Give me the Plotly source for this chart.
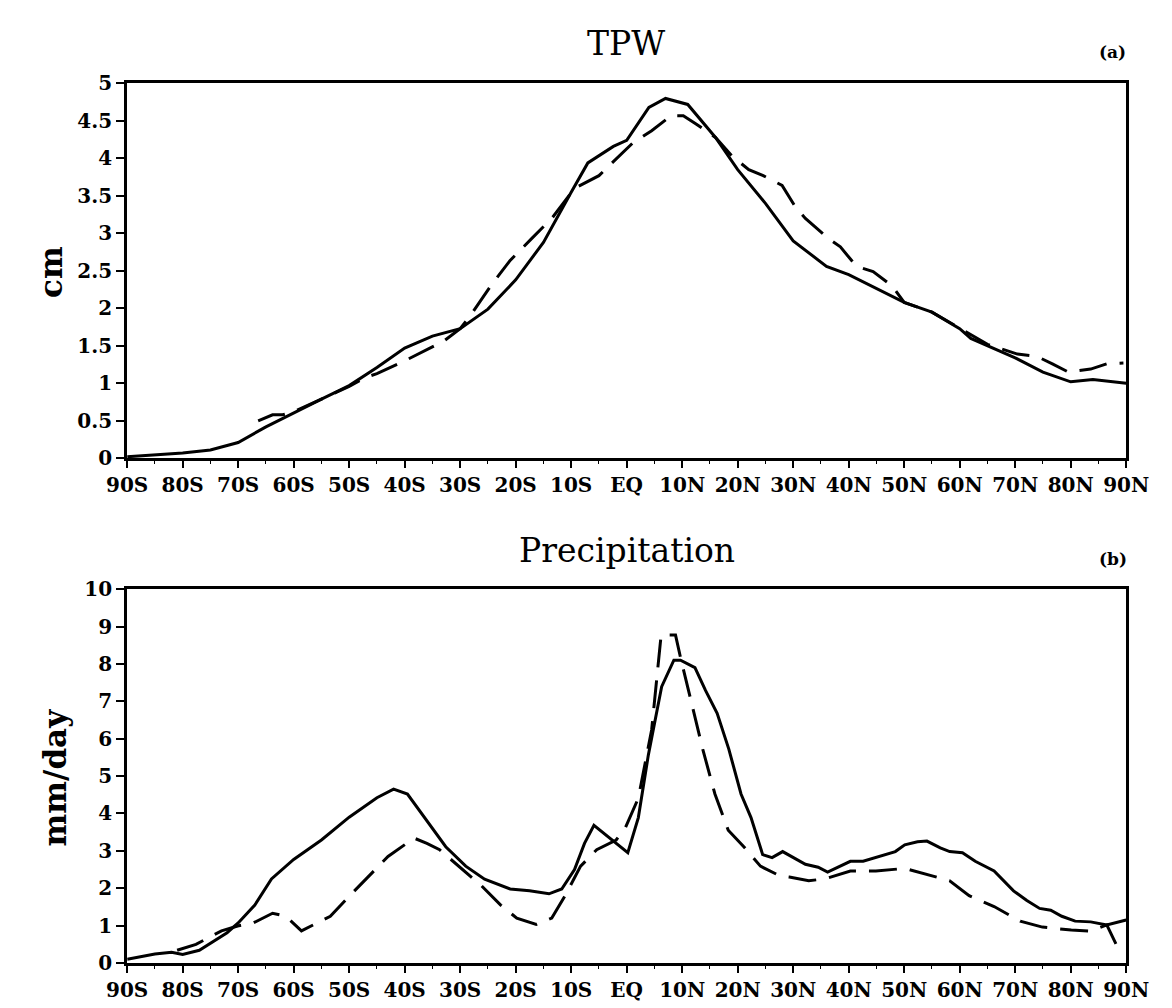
import plotly.graph_objects as go

# ---- data ----
tick_vals = [-90, -80, -70, -60, -50, -40, -30, -20, -10, 0, 10, 20, 30, 40, 50, 60, 70, 80, 90]
tick_text = ["90S", "80S", "70S", "60S", "50S", "40S", "30S", "20S", "10S", "EQ",
             "10N", "20N", "30N", "40N", "50N", "60N", "70N", "80N", "90N"]

tpw_solid_lat = [-90, -85, -80, -75, -70, -65, -60, -55, -50, -45, -40, -35, -30, -25, -20, -15, -10, -7, -2.4, 0,
                 4, 7, 11, 16, 20, 25, 30, 36, 40, 43, 50, 55, 60, 62, 65, 70, 75, 80, 84, 90]
tpw_solid = [0.02, 0.04, 0.07, 0.11, 0.21, 0.42, 0.61, 0.79, 0.97, 1.21, 1.47, 1.63, 1.73, 1.99, 2.38, 2.88, 3.55,
             3.94, 4.16, 4.24, 4.68, 4.8, 4.72, 4.28, 3.85, 3.4, 2.9, 2.56, 2.45, 2.34, 2.08, 1.95, 1.73, 1.6, 1.5,
             1.34, 1.15, 1.02, 1.05, 1.0]

tpw_dash_lat = [-66.4, -63.8, -62, -60, -55, -50, -47, -45, -40, -36.6, -33, -30, -28, -24.5, -21, -17, -13.5, -9.4,
                -5, 1, 4.5, 8, 10.2, 12.5, 16, 19, 22, 24.6, 28, 30.5, 32.2, 36.2, 38.5, 41.4, 44.4, 47.8, 50, 55,
                60, 65, 70.4, 73.9, 76.7, 79.6, 83.6, 86.5, 89.5]
tpw_dash = [0.5, 0.58, 0.58, 0.62, 0.79, 0.96, 1.08, 1.13, 1.3, 1.43, 1.56, 1.73, 1.92, 2.3, 2.64, 2.94, 3.2, 3.6,
            3.77, 4.2, 4.37, 4.57, 4.57, 4.46, 4.28, 4.03, 3.85, 3.77, 3.64, 3.34, 3.2, 2.94, 2.82, 2.56, 2.49, 2.3,
            2.08, 1.95, 1.73, 1.52, 1.39, 1.36, 1.26, 1.15, 1.19, 1.26, 1.27]

pr_solid_lat = [-90, -85, -82, -80, -77, -72, -70, -67, -64, -60, -55, -50, -45, -42, -39.5, -36, -32.6, -29, -25.6,
                -21, -17.5, -14, -11.7, -9.4, -7.6, -5.9, -1.9, 0.2, 2.1, 3.9, 6.3, 8.5, 9.7, 12.3, 14.2, 16.3,
                18.4, 20.6, 22.4, 24.5, 26.2, 28.1, 32.2, 34.5, 36.2, 40.3, 42.6, 45.4, 48.4, 50.1, 52.4, 54.1,
                56.5, 58.2, 60.5, 62.8, 66.2, 69.7, 72.1, 74.4, 76.4, 78.4, 80.8, 83.6, 86.5, 90]
pr_solid = [0.1, 0.24, 0.29, 0.23, 0.34, 0.81, 1.07, 1.55, 2.25, 2.77, 3.29, 3.9, 4.42, 4.65, 4.52, 3.81, 3.11, 2.59,
            2.24, 1.98, 1.93, 1.85, 1.98, 2.5, 3.2, 3.68, 3.2, 2.95, 3.89, 5.56, 7.39, 8.1, 8.1, 7.9, 7.29, 6.68,
            5.72, 4.52, 3.89, 2.9, 2.82, 2.98, 2.64, 2.56, 2.43, 2.72, 2.72, 2.85, 2.98, 3.16, 3.24, 3.26, 3.08,
            2.98, 2.95, 2.72, 2.46, 1.93, 1.67, 1.46, 1.41, 1.25, 1.12, 1.1, 1.02, 1.15]

pr_dash_lat = [-81, -77.6, -75.3, -73, -70.1, -67.3, -63.8, -61.4, -58.6, -55.7, -53.4, -49.9, -47, -43, -38.3, -36,
               -33.7, -30.2, -26.2, -22.7, -19.8, -16.3, -13.5, -11.1, -8.3, -5.4, -1.9, -0.2, 2.1, 4.5, 6.2, 8.8,
               9.7, 11.4, 13.7, 15.9, 18.3, 21.1, 24.1, 27.6, 29.3, 32.8, 35.7, 40.3, 44.9, 50.1, 53.6, 58.2, 61.7,
               66.2, 70.9, 74.9, 80.1, 83.6, 86.5, 89]
pr_dash = [0.34, 0.5, 0.68, 0.86, 0.99, 1.07, 1.33, 1.25, 0.86, 1.07, 1.25, 1.8, 2.25, 2.85, 3.34, 3.2, 3.03, 2.59,
           2.07, 1.55, 1.2, 1.03, 1.2, 1.8, 2.59, 3.03, 3.29, 3.63, 4.41, 6.24, 8.77, 8.77, 8.17, 7.13, 5.72, 4.52,
           3.55, 3.11, 2.59, 2.33, 2.3, 2.2, 2.25, 2.46, 2.46, 2.53, 2.38, 2.2, 1.8, 1.51, 1.12, 0.96, 0.88, 0.85,
           1.02, 0.25]

tpw_yticks = [0, 0.5, 1, 1.5, 2, 2.5, 3, 3.5, 4, 4.5, 5]
pr_yticks = [0, 1, 2, 3, 4, 5, 6, 7, 8, 9, 10]

# ---- figure ----
W, H = 1172, 1008
fig = go.Figure()
line_solid = dict(color="black", width=3)
line_dash = dict(color="black", width=3, dash="28px,13px")

fig.add_trace(go.Scatter(x=tpw_solid_lat, y=tpw_solid, mode="lines", line=line_solid, xaxis="x", yaxis="y"))
fig.add_trace(go.Scatter(x=tpw_dash_lat, y=tpw_dash, mode="lines", line=line_dash, xaxis="x", yaxis="y"))
fig.add_trace(go.Scatter(x=pr_solid_lat, y=pr_solid, mode="lines", line=line_solid, xaxis="x2", yaxis="y2"))
fig.add_trace(go.Scatter(x=pr_dash_lat, y=pr_dash, mode="lines", line=line_dash, xaxis="x2", yaxis="y2"))

xdom = [102 / W, 1140 / W]
ydom1 = [(H - 449) / H, (H - 65) / H]
ydom2 = [(H - 966) / H, (H - 583) / H]

tickfont = dict(family="DejaVu Serif", size=20, color="black", weight="bold")

def xaxis(anchor):
    return dict(domain=xdom, range=[-90, 90], anchor=anchor, tickmode="array", tickvals=tick_vals,
                ticktext=tick_text, ticks="outside", ticklen=7, tickwidth=2, tickcolor="black",
                showline=True, linecolor="black", linewidth=3, mirror=True, showgrid=False, zeroline=False,
                tickfont=tickfont, minor=dict(ticks="outside", ticklen=3, tickwidth=1, dtick=5, tickcolor="black"))

def yaxis(anchor, dom, rng, vals):
    return dict(domain=dom, range=rng, anchor=anchor, tickmode="array", tickvals=vals,
                ticktext=[("%g" % v) for v in vals], ticks="outside", ticklen=8, tickwidth=2, tickcolor="black",
                showline=True, linecolor="black", linewidth=3, mirror=True, showgrid=False, zeroline=False,
                tickfont=tickfont)

fig.update_layout(
    width=W, height=H, margin=dict(l=0, r=0, t=0, b=0), showlegend=False,
    paper_bgcolor="white", plot_bgcolor="white",
    xaxis=xaxis("y"), yaxis=yaxis("x", ydom1, [0, 5], tpw_yticks),
    xaxis2=xaxis("y2"), yaxis2=yaxis("x2", ydom2, [0, 10], pr_yticks),
)

ann = []
def txt(text, x, y, size, bold=False, angle=0):
    ann.append(dict(text=text, x=x / W, y=1 - y / H, xref="paper", yref="paper", showarrow=False,
                    xanchor="center", yanchor="middle", textangle=angle,
                    font=dict(family="DejaVu Serif", size=size, color="black", weight="bold" if bold else "normal")))

txt("TPW", 620, 24, 33)
txt("Precipitation", 621, 543, 33)
txt("(a)", 1126, 33, 17, bold=True)
txt("(b)", 1126, 552, 17, bold=True)
txt("cm", 23, 258, 31, bold=True, angle=-90)
txt("mm/day", 27, 776, 31, bold=True, angle=-90)
fig.update_layout(annotations=ann)

fig.write_html("out.html")
